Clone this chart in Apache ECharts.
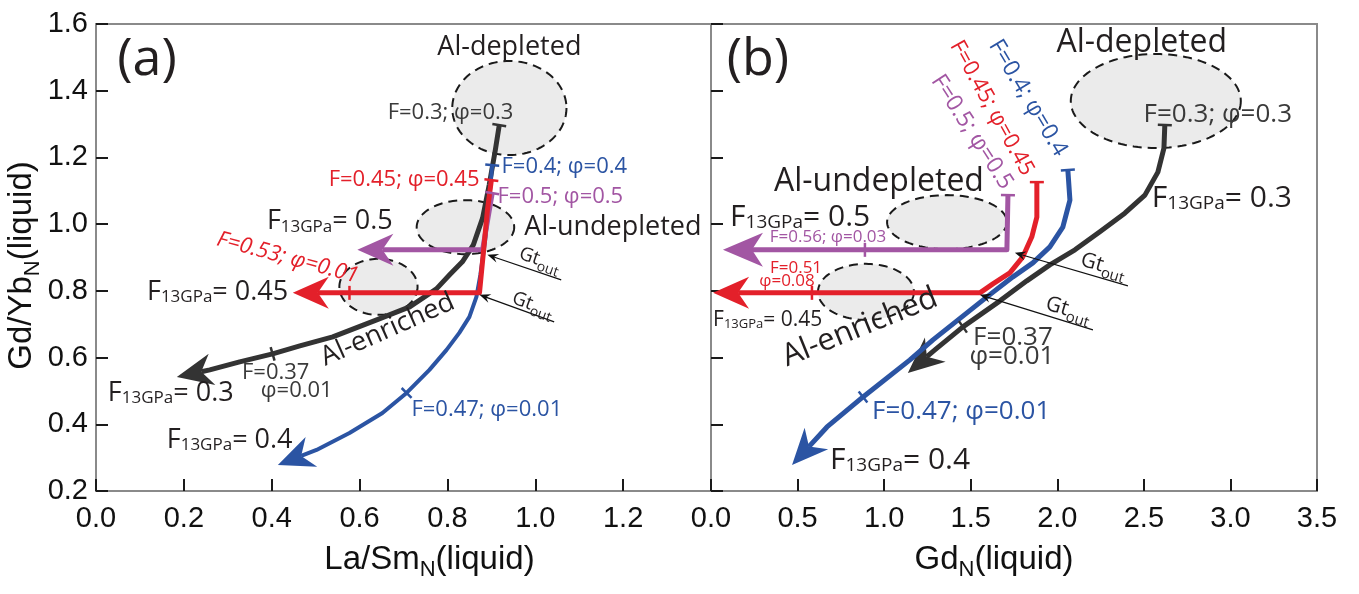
<!DOCTYPE html>
<html><head><meta charset="utf-8">
<script src="https://cdn.jsdelivr.net/npm/echarts@6/dist/echarts.min.js"></script>
<style>html,body{margin:0;padding:0;background:#fff}#c{width:1359px;height:594px}</style>
</head><body><div id="c"></div>
<script>
// ---------- axes ----------
const xRangeA = [0, 1.4], xStepA = 0.2;
const xRangeB = [0, 3.5], xStepB = 0.5;
const yRange = [0.2, 1.6], yStep = 0.2;

// ---------- panel (a): La/Sm_N vs Gd/Yb_N ----------
const blackA = [[0.918,1.297],[0.909,1.222],[0.895,1.117],[0.880,1.018],[0.859,0.938],[0.834,0.887],[0.805,0.848],[0.775,0.806],[0.714,0.752],[0.639,0.713],[0.539,0.662],[0.464,0.635],[0.402,0.611],[0.327,0.587],[0.259,0.563],[0.184,0.542]];
const blueA = [[0.902,1.177],[0.895,1.072],[0.886,0.953],[0.875,0.848],[0.866,0.782],[0.850,0.722],[0.827,0.674],[0.798,0.623],[0.759,0.563],[0.707,0.494],[0.652,0.434],[0.577,0.374],[0.502,0.323],[0.414,0.278]];
const redA = [[0.900,1.132],[0.891,1.042],[0.884,0.944],[0.873,0.794],[0.448,0.794]];
const purpleA = [[0.902,1.093],[0.880,0.923],[0.595,0.923]];
// marks along curves (start points and labelled steps)
const marksBlackA = [[0.918,1.297],[0.402,0.611]];
const marksBlueA = [[0.902,1.177],[0.707,0.494]];
const marksRedA = [[0.900,1.132],[0.577,0.794]];
const marksPurpleA = [[0.902,1.093]];
// shaded fields [cx, cy, rx, ry]
const fieldsA = [[0.941,1.348,0.130,0.141],[0.841,0.991,0.111,0.081],[0.643,0.812,0.089,0.084]];
// Gt-out pointers [tailX, tailY, tipX, tipY]
const gtA = [[1.059,0.833,0.891,0.908],[1.043,0.707,0.873,0.788]];

// ---------- panel (b): Gd_N vs Gd/Yb_N ----------
const blackB = [[2.621,1.297],[2.616,1.228],[2.581,1.156],[2.506,1.087],[2.390,1.033],[2.246,0.977],[2.102,0.923],[1.957,0.878],[1.824,0.830],[1.669,0.770],[1.455,0.692],[1.293,0.623],[1.137,0.554]];
const blueB = [[2.061,1.162],[2.073,1.072],[2.032,0.991],[1.957,0.932],[1.859,0.884],[1.744,0.842],[1.594,0.782],[1.478,0.734],[1.282,0.653],[1.149,0.593],[0.878,0.482],[0.670,0.392],[0.468,0.278]];
const redB = [[1.882,1.126],[1.882,1.021],[1.853,0.962],[1.801,0.902],[1.726,0.854],[1.628,0.821],[1.553,0.794],[0.012,0.794]];
const purpleB = [[1.715,1.087],[1.709,0.923],[0.069,0.923]];
const marksBlackB = [[2.621,1.297],[1.455,0.692]];
const marksBlueB = [[2.061,1.162],[0.878,0.482]];
const marksRedB = [[1.882,1.126],[0.583,0.794]];
const marksPurpleB = [[1.715,1.087],[0.889,0.923]];
const fieldsB = [[2.569,1.369,0.491,0.141],[1.363,1.006,0.346,0.081],[0.895,0.797,0.277,0.084]];
const gtB = [[2.408,0.815,1.755,0.914],[2.206,0.683,1.553,0.788]];

// ---------- annotations ----------
const notesA = [
  {t:'(a)', at:[0.116,1.492]},
  {t:'Al-depleted', at:[0.941,1.531]},
  {t:'F=0.3; φ=0.3', at:[0.807,1.333]},
  {t:'F=0.4; φ=0.4', at:[0.923,1.171]},
  {t:'F=0.45; φ=0.45', at:[0.873,1.132]},
  {t:'F=0.5; φ=0.5', at:[0.914,1.081]},
  {f:'0.5', at:[0.389,1.007]},
  {t:'Al-undepleted', at:[0.975,0.991]},
  {t:'F=0.53; φ=0.01', at:[0.436,0.899]},
  {f:'0.45', at:[0.116,0.797]},
  {t:'Al-enriched', at:[0.664,0.683]},
  {t:'F=0.37', at:[0.409,0.554]},
  {t:'φ=0.01', at:[0.457,0.500]},
  {f:'0.3', at:[0.027,0.494]},
  {t:'F=0.47; φ=0.01', at:[0.718,0.443]},
  {f:'0.4', at:[0.161,0.353]},
  {g:1, at:[1.009,0.887]},
  {g:1, at:[0.993,0.752]}
];
const notesB = [
  {t:'(b)', at:[0.271,1.492]},
  {t:'Al-depleted', at:[2.488,1.543]},
  {t:'F=0.3; φ=0.3', at:[2.927,1.327]},
  {t:'F=0.4; φ=0.4', at:[1.830,1.378]},
  {t:'F=0.45; φ=0.45', at:[1.622,1.348]},
  {t:'F=0.5; φ=0.5', at:[1.507,1.276]},
  {t:'Al-undepleted', at:[0.970,1.126]},
  {f:'0.5', at:[0.110,1.021]},
  {t:'F=0.56; φ=0.03', at:[0.676,0.962]},
  {t:'F=0.51', at:[0.491,0.869]},
  {t:'φ=0.08', at:[0.439,0.830]},
  {f:'0.45', at:[0.012,0.713]},
  {t:'Al-enriched', at:[0.860,0.690]},
  {f:'0.3', at:[2.546,1.078]},
  {t:'F=0.37', at:[1.744,0.659]},
  {t:'φ=0.01', at:[1.738,0.602]},
  {t:'F=0.47; φ=0.01', at:[0.930,0.437]},
  {f:'0.4', at:[0.687,0.293]},
  {g:1, at:[2.263,0.869]},
  {g:1, at:[2.061,0.737]}
];

// ---------- styles ----------
const FONT = "'Open Sans','Noto Sans',sans-serif";
const NARROW = "'Liberation Sans Narrow','Liberation Sans',Arial,sans-serif";
const C = {black:'#333333', blue:'#2b54a3', red:'#e3202a', purple:'#a256a3', ink:'#231f20', grey:'#3a3a3a'};
// per-annotation look (same order as notes)
const looksA = [
  {size:52, color:C.ink, align:'center'},
  {size:27, color:C.ink, align:'center'},
  {size:22, color:C.grey, align:'center'},
  {size:22, color:C.blue, align:'left'},
  {size:22, color:C.red, align:'right'},
  {size:22, color:C.purple, align:'left'},
  {big:27, small:17, color:C.ink, align:'left'},
  {size:27, color:C.ink, align:'left'},
  {size:22, color:C.red, align:'center', rot:-15, italic:true},
  {big:27, small:17, color:C.ink, align:'left'},
  {size:27, color:C.ink, align:'center', rot:24},
  {size:22, color:C.grey, align:'center'},
  {size:22, color:C.grey, align:'center'},
  {big:27, small:17, color:C.ink, align:'left'},
  {size:22, color:C.blue, align:'left'},
  {big:27, small:17, color:C.ink, align:'left'},
  {big:19, small:14, color:C.ink, align:'center', rot:-19},
  {big:19, small:14, color:C.ink, align:'center', rot:-20}
];
const looksB = [
  {size:52, color:C.ink, align:'center'},
  {size:32, color:C.ink, align:'center'},
  {size:26, color:C.grey, align:'center'},
  {size:23, color:C.blue, align:'center', rot:-59},
  {size:22, color:C.red, align:'center', rot:-61},
  {size:23, color:C.purple, align:'center', rot:-57},
  {size:32, color:C.ink, align:'center'},
  {big:30, small:19, color:C.ink, align:'left'},
  {size:17, color:C.purple, align:'center'},
  {size:17, color:C.red, align:'center'},
  {size:17, color:C.red, align:'center'},
  {big:21, small:13, color:C.ink, align:'left'},
  {size:31, color:C.ink, align:'center', rot:22},
  {big:30, small:19, color:C.ink, align:'left'},
  {size:26, color:C.grey, align:'center'},
  {size:26, color:C.grey, align:'center'},
  {size:26, color:C.blue, align:'left'},
  {big:30, small:19, color:C.ink, align:'left'},
  {big:21, small:15, color:C.ink, align:'center', rot:-16},
  {big:21, small:15, color:C.ink, align:'center', rot:-17}
];

function textStyleFor(n, lk) {
  const st = {fill: lk.color, align: lk.align, verticalAlign: 'middle', fontFamily: FONT};
  if (n.f || n.g) {
    st.text = n.f ? `{b|F}{s|13GPa}{b|= ${n.f}}` : `{g|Gt}{s|out}`;
    st.rich = {
      b: {fontSize: lk.big, fontFamily: FONT, fill: lk.color, verticalAlign: 'bottom'},
      g: {fontSize: lk.big, fontFamily: FONT, fill: lk.color, verticalAlign: 'bottom', padding:[0,0,4,0]},
      s: {fontSize: lk.small, fontFamily: FONT, fill: lk.color, verticalAlign: 'bottom'}
    };
  } else {
    st.text = n.t;
    st.fontSize = lk.size;
    if (lk.italic) st.fontStyle = 'italic';
  }
  return st;
}

function notesSeries(notes, looks, gi) {
  return {
    type: 'custom', xAxisIndex: gi, yAxisIndex: gi, z: 10, silent: true, clip: false,
    data: notes.map(n => n.at),
    renderItem(params, api) {
      const i = params.dataIndex, n = notes[i], lk = looks[i];
      const p = api.coord([api.value(0), api.value(1)]);
      return {type: 'text', x: p[0], y: p[1], rotation: (lk.rot || 0) * Math.PI / 180,
        style: textStyleFor(n, lk)};
    }
  };
}

function fieldSeries(fields, gi) {
  return {
    type: 'custom', xAxisIndex: gi, yAxisIndex: gi, z: 1, silent: true, clip: false,
    data: fields,
    renderItem(params, api) {
      const c = api.coord([api.value(0), api.value(1)]);
      const s = api.size([api.value(2), api.value(3)]);
      const pts = [];
      for (let k = 0; k < 120; k++) { const a = k / 120 * Math.PI * 2; pts.push([c[0] + s[0] * Math.cos(a), c[1] + s[1] * Math.sin(a)]); }
      return {type: 'polygon', shape: {points: pts},
        style: {fill: '#ebebeb', stroke: '#1a1a1a', lineWidth: 2, lineDash: [9, 6]}};
    }
  };
}

// whole curve drawn at the last item, with an arrowhead at the end
function curveSeries(curve, color, gi, width, L, W) {
  return {
    type: 'custom', xAxisIndex: gi, yAxisIndex: gi, z: 3, silent: true, clip: false,
    data: curve,
    renderItem(params, api) {
      const cnt = params.dataInsideLength;
      if (params.dataIndexInside !== cnt - 1) return null;
      const pts = [];
      for (let k = 0; k < cnt; k++) pts.push(api.coord([api.value(0, k), api.value(1, k)]));
      const tip = pts[cnt - 1], prev = pts[cnt - 2];
      let dx = tip[0] - prev[0], dy = tip[1] - prev[1];
      const l = Math.hypot(dx, dy); dx /= l; dy /= l;
      const nx = -dy, ny = dx, notch = 11;
      const linePts = pts.slice(0, cnt - 1).concat([[tip[0] - (L - notch) * dx, tip[1] - (L - notch) * dy]]);
      const head = [tip,
        [tip[0] - L * dx + W * nx, tip[1] - L * dy + W * ny],
        [tip[0] - (L - notch) * dx, tip[1] - (L - notch) * dy],
        [tip[0] - L * dx - W * nx, tip[1] - L * dy - W * ny]];
      return {type: 'group', children: [
        {type: 'polyline', shape: {points: linePts}, style: {stroke: color, lineWidth: width, fill: null, lineJoin: 'round'}},
        {type: 'polygon', shape: {points: head}, style: {fill: color}}
      ]};
    }
  };
}

function distSeg(p, a, b) {
  const vx = b[0] - a[0], vy = b[1] - a[1];
  const t = Math.max(0, Math.min(1, ((p[0] - a[0]) * vx + (p[1] - a[1]) * vy) / (vx * vx + vy * vy || 1)));
  return Math.hypot(p[0] - a[0] - t * vx, p[1] - a[1] - t * vy);
}

function marksSeries(curve, marks, color, gi, half) {
  return {
    type: 'custom', xAxisIndex: gi, yAxisIndex: gi, z: 4, silent: true, clip: false,
    data: marks,
    renderItem(params, api) {
      const p = api.coord([api.value(0), api.value(1)]);
      let best = [0, 1], bd = Infinity;
      for (let k = 0; k < curve.length - 1; k++) {
        const a = api.coord(curve[k]), b = api.coord(curve[k + 1]);
        const d = distSeg(p, a, b);
        if (d < bd) { bd = d; best = [b[0] - a[0], b[1] - a[1]]; }
      }
      const l = Math.hypot(best[0], best[1]);
      const nx = -best[1] / l, ny = best[0] / l;
      return {type: 'line', shape: {x1: p[0] - nx * half, y1: p[1] - ny * half, x2: p[0] + nx * half, y2: p[1] + ny * half},
        style: {stroke: color, lineWidth: 2.5}};
    }
  };
}

function gtSeries(items, gi) {
  return {
    type: 'custom', xAxisIndex: gi, yAxisIndex: gi, z: 5, silent: true, clip: false,
    data: items,
    renderItem(params, api) {
      const a = api.coord([api.value(0), api.value(1)]), b = api.coord([api.value(2), api.value(3)]);
      let dx = b[0] - a[0], dy = b[1] - a[1]; const l = Math.hypot(dx, dy); dx /= l; dy /= l;
      const nx = -dy, ny = dx, L = 11, W = 4.5;
      return {type: 'group', children: [
        {type: 'line', shape: {x1: a[0], y1: a[1], x2: b[0] - 6 * dx, y2: b[1] - 6 * dy}, style: {stroke: '#111', lineWidth: 1.2}},
        {type: 'polygon', shape: {points: [b, [b[0] - L * dx + W * nx, b[1] - L * dy + W * ny], [b[0] - 7 * dx, b[1] - 7 * dy], [b[0] - L * dx - W * nx, b[1] - L * dy - W * ny]]}, style: {fill: '#111'}}
      ]};
    }
  };
}

const axisLineStyle = {show: true, lineStyle: {color: '#8a8a8a', width: 2}};
const tickStyle = {show: true, inside: true, length: 12, lineStyle: {color: '#1a1a1a', width: 2}};
const labelStyle = {fontFamily: NARROW, fontSize: 29, color: '#111'};
const nameRich = {
  a: {fontFamily: NARROW, fontSize: 33, color: '#111', verticalAlign: 'bottom', padding: [0, 0, 5, 0]},
  s: {fontFamily: NARROW, fontSize: 22, color: '#111', verticalAlign: 'bottom'}
};

const chart = echarts.init(document.getElementById('c'), null, {renderer: 'canvas'});
chart.setOption({
  animation: false,
  backgroundColor: '#fff',
  grid: [
    {left: 96, top: 24, width: 615, height: 467, show: true, borderColor: '#8a8a8a', borderWidth: 2},
    {left: 711, top: 24, width: 606, height: 467, show: true, borderColor: '#8a8a8a', borderWidth: 2}
  ],
  xAxis: [
    {gridIndex: 0, type: 'value', min: xRangeA[0], max: xRangeA[1], interval: xStepA,
      axisLine: axisLineStyle, axisTick: tickStyle, splitLine: {show: false},
      axisLabel: Object.assign({margin: 13, showMaxLabel: false, formatter: v => v.toFixed(1)}, labelStyle),
      name: '{a|La/Sm}{s|N}{a|(liquid)}', nameLocation: 'middle', nameGap: 52,
      nameTextStyle: {rich: nameRich, padding: [0, 0, 0, 52]}},
    {gridIndex: 1, type: 'value', min: xRangeB[0], max: xRangeB[1], interval: xStepB,
      axisLine: axisLineStyle, axisTick: tickStyle, splitLine: {show: false},
      axisLabel: Object.assign({margin: 13, formatter: v => v.toFixed(1)}, labelStyle),
      name: '{a|Gd}{s|N}{a|(liquid)}', nameLocation: 'middle', nameGap: 52,
      nameTextStyle: {rich: nameRich, padding: [0, 40, 0, 0]}}
  ],
  yAxis: [
    {gridIndex: 0, type: 'value', min: yRange[0], max: yRange[1], interval: yStep,
      axisLine: axisLineStyle, axisTick: tickStyle, splitLine: {show: false},
      axisLabel: Object.assign({margin: 8, formatter: v => v.toFixed(1)}, labelStyle),
      name: '{a|Gd/Yb}{s|N}{a|(liquid)}', nameLocation: 'middle', nameGap: 44,
      nameTextStyle: {rich: nameRich, padding: [0, 16, 0, 0]}},
    {gridIndex: 1, type: 'value', min: yRange[0], max: yRange[1], interval: yStep,
      axisLine: axisLineStyle, axisTick: tickStyle, splitLine: {show: false},
      axisLabel: {show: false}}
  ],
  series: [
    fieldSeries(fieldsA, 0),
    fieldSeries(fieldsB, 1),
    curveSeries(blackA, C.black, 0, 5, 36, 16),
    curveSeries(blueA, C.blue, 0, 4, 36, 16),
    curveSeries(purpleA, C.purple, 0, 5, 36, 16),
    curveSeries(redA, C.red, 0, 5, 36, 16),
    curveSeries(blackB, C.black, 1, 5, 36, 16),
    curveSeries(blueB, C.blue, 1, 5, 36, 16),
    curveSeries(purpleB, C.purple, 1, 5, 40, 17),
    curveSeries(redB, C.red, 1, 5, 36, 16),
    marksSeries(blackA, marksBlackA, C.black, 0, 7),
    marksSeries(blueA, marksBlueA, C.blue, 0, 7),
    marksSeries(redA, marksRedA, C.red, 0, 7),
    marksSeries(purpleA, marksPurpleA, C.purple, 0, 7),
    marksSeries(blackB, marksBlackB, C.black, 1, 7),
    marksSeries(blueB, marksBlueB, C.blue, 1, 7),
    marksSeries(redB, marksRedB, C.red, 1, 7),
    marksSeries(purpleB, marksPurpleB, C.purple, 1, 7),
    gtSeries(gtA, 0),
    gtSeries(gtB, 1),
    notesSeries(notesA, looksA, 0),
    notesSeries(notesB, looksB, 1)
  ]
});
</script></body></html>
